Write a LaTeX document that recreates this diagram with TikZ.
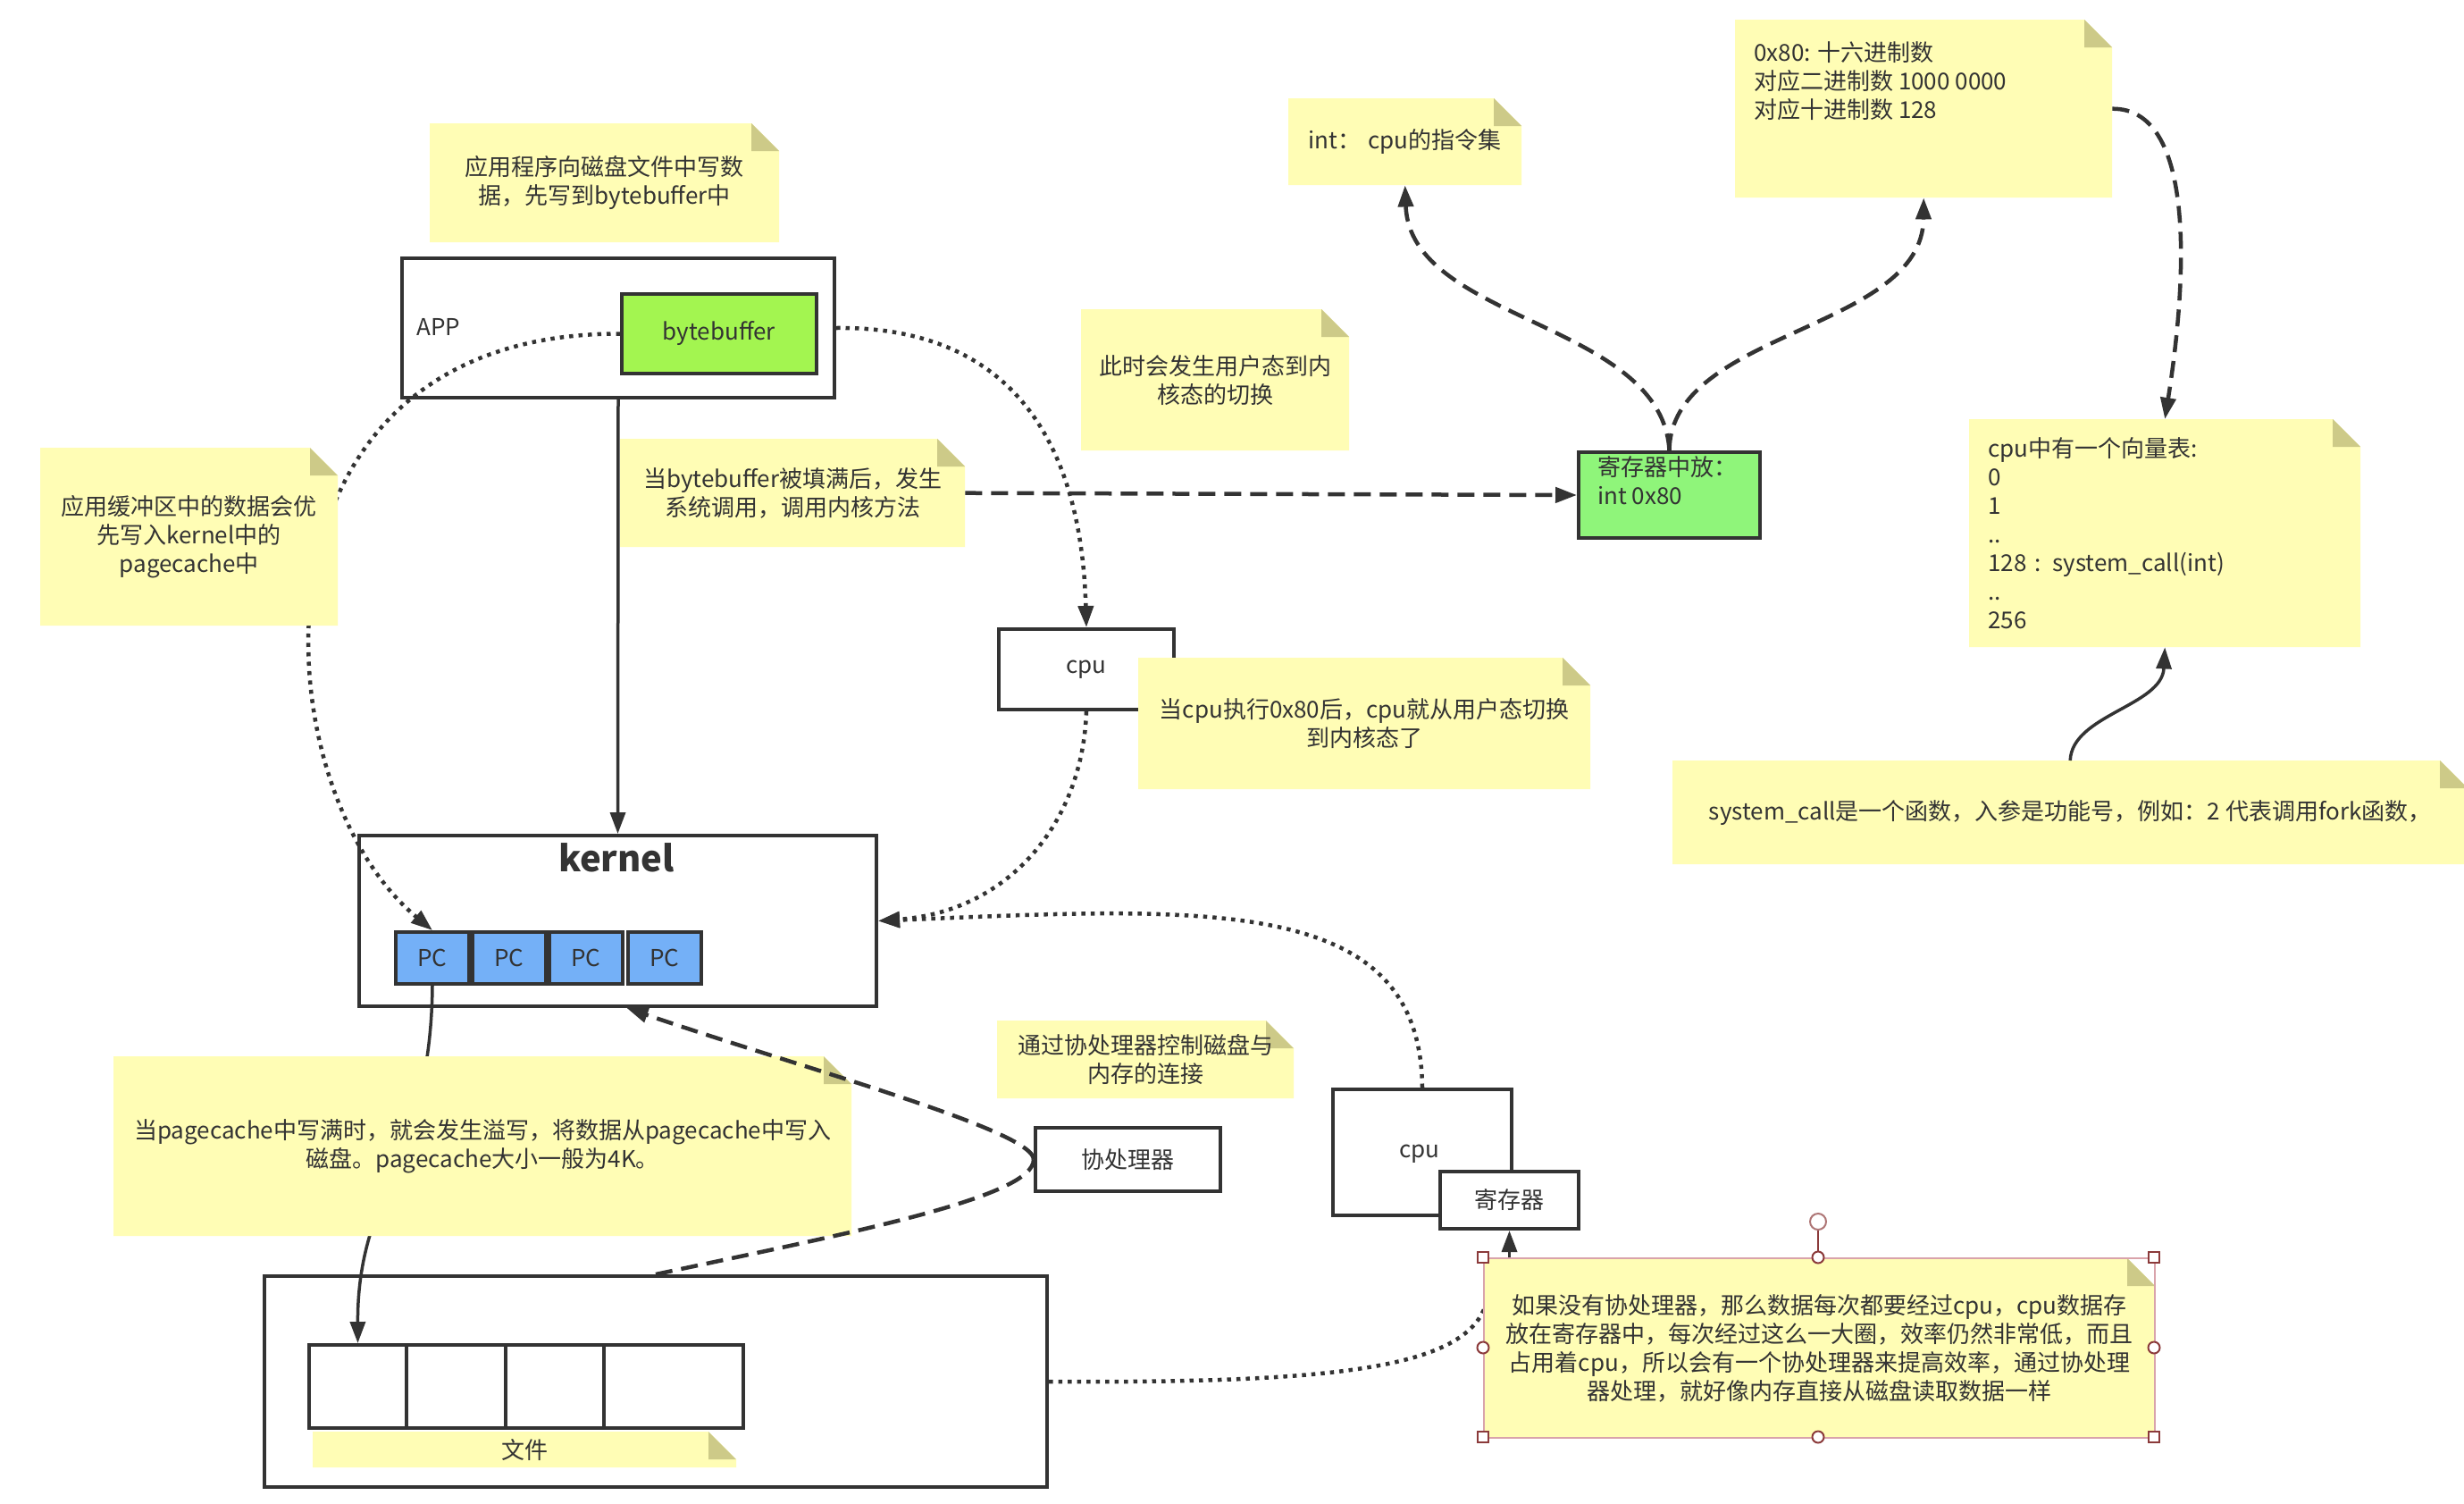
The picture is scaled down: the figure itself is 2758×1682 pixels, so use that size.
\documentclass[tikz,border=0pt]{standalone}
\usepackage{fontspec}
\setmainfont{Noto Sans CJK SC}
\usetikzlibrary{arrows.meta}
\definecolor{lc}{HTML}{333333}
\definecolor{notey}{HTML}{FFFDB5}
\definecolor{foldc}{HTML}{CDCA88}
\definecolor{gbb}{HTML}{A3F550}
\definecolor{greg}{HTML}{8FF57A}
\definecolor{pcb}{HTML}{74B0F7}
\definecolor{selb}{HTML}{D9A3AB}
\definecolor{selh}{HTML}{8B3A3A}
\newcommand\fs{\fontsize{26pt}{32pt}\selectfont}
\begin{document}
\begin{tikzpicture}[x=1pt,y=-1pt,
  every node/.style={font=\fs, text=lc, inner sep=0pt},
  box/.style={draw=lc, line width=4pt, fill=white, anchor=north west},
  note/.style={anchor=north west, align=center, path picture={
     \fill[notey] (path picture bounding box.south west) -- (path picture bounding box.north west)
        -- ([xshift=-31pt]path picture bounding box.north east) -- ([yshift=-31pt]path picture bounding box.north east)
        -- (path picture bounding box.south east) -- cycle;
     \fill[foldc] ([xshift=-31pt]path picture bounding box.north east) -- ([xshift=-31pt,yshift=-31pt]path picture bounding box.north east)
        -- ([yshift=-31pt]path picture bounding box.north east) -- cycle;}},
  conn/.style={draw=lc, line width=3.5pt},
  arr/.style={-{Triangle[length=24pt,width=17pt]}},
  dsh/.style={conn, line width=4.5pt, dash pattern=on 19pt off 10pt},
  dot/.style={conn, line width=4.5pt, dash pattern=on 4.5pt off 6pt},
  hnd/.style={draw=selh, line width=2pt, fill=white},
]
\useasboundingbox (0,0) rectangle (2758,1682);
\fill[white] (0,0) rectangle (2758,1682);

% ---------- boxes
\node[box, minimum width=484pt, minimum height=156pt] (app) at (448,287) {};
\node[anchor=west] (apptxt) at (466,366) {APP};
\node[box, fill=gbb, minimum width=218pt, minimum height=89pt] (bb) at (694,327) {bytebuffer};

\node[box, minimum width=579pt, minimum height=191pt] (kernel) at (400,933) {};
\node[font=\fontsize{40pt}{48pt}\selectfont\bfseries] (kerneltxt) at (690,960) {kernel};
\node[box, fill=pcb, minimum width=82pt, minimum height=58pt] (pc1) at (441,1041) {PC};
\node[box, fill=pcb, minimum width=82pt, minimum height=58pt] (pc2) at (527,1041) {PC};
\node[box, fill=pcb, minimum width=82pt, minimum height=58pt] (pc3) at (613,1041) {PC};
\node[box, fill=pcb, minimum width=82pt, minimum height=58pt] (pc4) at (701,1041) {PC};

\node[box, minimum width=876pt, minimum height=236pt] (disk) at (294,1426) {};
\node[box, minimum width=109pt, minimum height=93pt] (c1) at (344,1503) {};
\node[box, minimum width=111pt, minimum height=93pt] (c2) at (453,1503) {};
\node[box, minimum width=110pt, minimum height=93pt] (c3) at (564,1503) {};
\node[box, minimum width=156pt, minimum height=93pt] (c4) at (674,1503) {};

\node[box, minimum width=196pt, minimum height=90pt] (cpu1) at (1116,702) {cpu};
\node[box, fill=greg, minimum width=203pt, minimum height=96pt] (regbox) at (1765,504) {};
\node[anchor=west, align=left] (regtxt) at (1788,537.5) {寄存器中放：\\int 0x80};

\node[box, minimum width=200pt, minimum height=141pt] (cpu2) at (1490,1217) {};
\node (cpu2txt) at (1589,1291) {cpu};
\node[box, minimum width=155pt, minimum height=64pt] (reg2) at (1610,1309) {寄存器};
\node[box, minimum width=207pt, minimum height=71pt] (cop) at (1157,1260) {协处理器};

\coordinate (bigend) at (1663,1460);

% ---------- connectors hidden under notes
\draw[dot, arr] (bb.west) .. controls (260,372) and (290,880) .. (pc1.north);
\draw[conn, arr] (pc1.south) .. controls (482,1300) and (400,1330) .. (c1.north);
\draw[dot] (disk.east) .. controls (1500,1548) and (1640,1530) .. (bigend);

% ---------- notes
\node[note, minimum width=391pt, minimum height=133pt] (n1) at (481,138) {应用程序向磁盘文件中写数\\据，先写到bytebuffer中};
\node[note, minimum width=333pt, minimum height=199pt] (n2) at (45,501) {应用缓冲区中的数据会优\\先写入kernel中的\\pagecache中};
\node[note, minimum width=386pt, minimum height=121pt] (n3) at (694,491) {当bytebuffer被填满后，发生\\系统调用，调用内核方法};
\node[note, minimum width=300pt, minimum height=158pt] (n4) at (1210,346) {此时会发生用户态到内\\核态的切换};
\node[note, minimum width=261pt, minimum height=97pt] (n5) at (1442,110) {int：\hspace{8pt}cpu的指令集};
\node[note, minimum width=422pt, minimum height=199pt] (n6) at (1942,22) {};
\node[anchor=west, align=left] (n6txt) at (1963,91) {0x80: 十六进制数\\对应二进制数 1000 0000\\对应十进制数 128};
\node[note, minimum width=438pt, minimum height=255pt, align=left, text width=396pt] (n7) at (2204,469) {cpu中有一个向量表:\\0\\1\\..\\128 : system\_call(int)\\..\\256};
\node[note, minimum width=506pt, minimum height=147pt] (n8) at (1274,736) {当cpu执行0x80后，cpu就从用户态切换\\到内核态了};
\node[note, minimum width=890pt, minimum height=116pt] (n9) at (1872,851) {system\_call是一个函数，入参是功能号，例如：2 代表调用fork函数，};
\node[note, minimum width=332pt, minimum height=87pt] (n10) at (1116,1142) {通过协处理器控制磁盘与\\内存的连接};
\node[note, minimum width=826pt, minimum height=201pt] (n11) at (127,1182) {当pagecache中写满时，就会发生溢写，将数据从pagecache中写入\\磁盘。pagecache大小一般为4K。};
\node[note, minimum width=474pt, minimum height=40pt] (n12) at (350,1602) {文件};
\node[note, draw=selb, line width=2pt, minimum width=751pt, minimum height=201pt] (big) at (1660,1407) {如果没有协处理器，那么数据每次都要经过cpu，cpu数据存\\放在寄存器中，每次经过这么一大圈，效率仍然非常低，而且\\占用着cpu，所以会有一个协处理器来提高效率，通过协处理\\器处理，就好像内存直接从磁盘读取数据一样};

% ---------- connectors on top
\draw[conn, arr] (app.south) -- (kernel.north);
\draw[dot, arr] (app.east) .. controls (1120,365) and (1210,480) .. (cpu1.north);
\draw[dot, arr] (cpu1.south) .. controls (1212,920) and (1130,1020) .. (kernel.east);
\draw[dot, arr] (cpu2.north) .. controls (1590,1000) and (1350,1015) .. (kernel.east);
\draw[dsh] (disk.north) .. controls (950,1380) and (1157,1340) .. (cop.west);
\draw[dsh, arr] (cop.west) .. controls (1157,1265) and (900,1196) .. ([xshift=10pt]kernel.south);
\draw[dsh, arr] (n3.east) -- (regbox.west);
\draw[dsh, arr] (regbox.north) .. controls (1860,360) and (1578,360) .. (n5.south);
\draw[dsh, arr] (regbox.north) .. controls (1870,370) and (2152,370) .. (n6.south);
\draw[dsh, arr] (n6.east) .. controls (2455,121) and (2450,300) .. (n7.north);
\draw[conn, arr] (n9.north) .. controls (2319,800) and (2420,790) .. (n7.south);
\draw[conn, arr] (reg2.south |- big.north) -- (reg2.south);

% ---------- selection handles of the big note
\draw[selh, line width=2pt] (2035,1400) -- (2035,1376);
\draw[hnd, draw=selh!70] (2035,1367) circle (9);
\foreach \p in {(1660,1407),(2411,1407),(1660,1608),(2411,1608)}
  \draw[hnd] \p ++(-6,-6) rectangle ++(12,12);
\foreach \p in {(2035,1407),(2035,1608),(1660,1508),(2411,1508)}
  \draw[hnd] \p circle (6.5);
\end{tikzpicture}
\end{document}
